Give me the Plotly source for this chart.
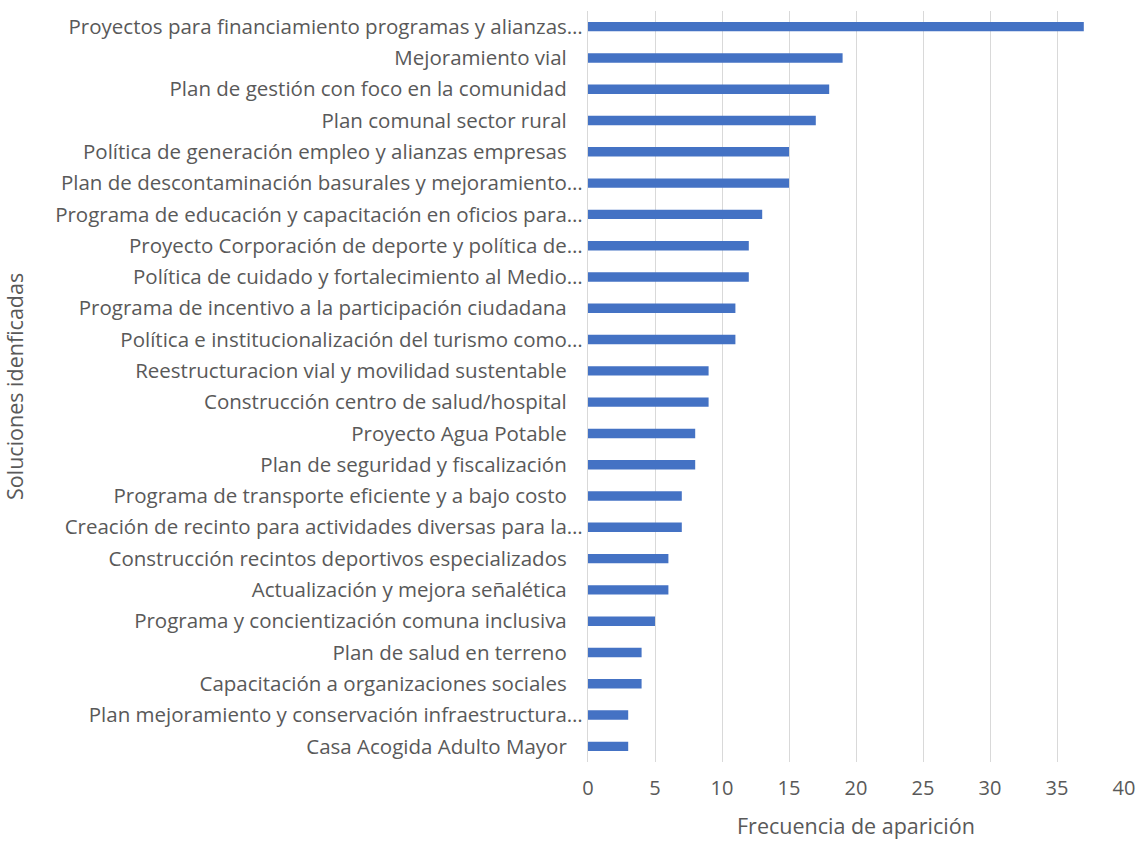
import plotly.graph_objects as go

categories = [
    "Proyectos para financiamiento programas y alianzas…",
    "Mejoramiento vial",
    "Plan de gestión con foco en la comunidad",
    "Plan comunal sector rural",
    "Política de generación empleo y alianzas empresas",
    "Plan de descontaminación basurales y mejoramiento…",
    "Programa de educación y capacitación en oficios para…",
    "Proyecto Corporación de deporte y política de…",
    "Política de cuidado y fortalecimiento al Medio…",
    "Programa de incentivo a la participación ciudadana",
    "Política e institucionalización del turismo como…",
    "Reestructuracion vial y movilidad sustentable",
    "Construcción centro de salud/hospital",
    "Proyecto Agua Potable",
    "Plan de seguridad y fiscalización",
    "Programa de transporte eficiente y a bajo costo",
    "Creación de recinto para actividades diversas para la…",
    "Construcción recintos deportivos especializados",
    "Actualización y mejora señalética",
    "Programa y concientización comuna inclusiva",
    "Plan de salud en terreno",
    "Capacitación a organizaciones sociales",
    "Plan mejoramiento y conservación infraestructura…",
    "Casa Acogida Adulto Mayor",
]
values = [37, 19, 18, 17, 15, 15, 13, 12, 12, 11, 11, 9, 9, 8, 8, 7, 7, 6, 6, 5, 4, 4, 3, 3]
x_ticks = [0, 5, 10, 15, 20, 25, 30, 35, 40]

labels = [c if c.endswith("…") else c + "\u00a0\u00a0\u00a0" for c in categories]

FONT = "Open Sans"
GREY = "#595959"
L, R, T, B = 588, 17, 11, 79
W, H = 1141, 841

fig = go.Figure(
    go.Bar(
        x=values,
        y=labels,
        orientation="h",
        marker=dict(color="#4472C4", line=dict(width=0)),
        width=0.3,
    )
)

fig.update_layout(
    width=W,
    height=H,
    margin=dict(l=L, r=R, t=T, b=B, autoexpand=False),
    plot_bgcolor="white",
    paper_bgcolor="white",
    showlegend=False,
    font=dict(family=FONT, color=GREY, size=20),
)
fig.update_xaxes(
    range=[0, 40],
    tickvals=x_ticks,
    showgrid=True,
    gridcolor="#D9D9D9",
    gridwidth=1.3,
    zeroline=False,
    showline=False,
    ticks="",
    automargin=False,
    ticklabelstandoff=12,
    tickfont=dict(size=20, color=GREY, family=FONT),
)
fig.update_yaxes(
    categoryorder="array",
    categoryarray=labels[::-1],
    autorange=False,
    range=[-0.5, len(labels) - 0.5],
    showline=True,
    linecolor="#D9D9D9",
    linewidth=1.3,
    ticks="",
    automargin=False,
    ticklabelstandoff=0,
    tickfont=dict(size=20.5, color=GREY, family=FONT),
)

pw = W - L - R
ph = H - T - B
fig.add_annotation(
    text="Frecuencia de aparición",
    xref="paper", yref="paper",
    x=(856 - L) / pw, y=-(826 - (H - B)) / ph,
    showarrow=False, xanchor="center", yanchor="middle",
    font=dict(size=21.5, color=GREY, family=FONT),
)
fig.add_annotation(
    text="Soluciones idenficadas",
    xref="paper", yref="paper",
    x=-(L - 14) / pw, y=1 - (387 - T) / ph,
    textangle=-90,
    showarrow=False, xanchor="center", yanchor="middle",
    font=dict(size=21.5, color=GREY, family=FONT),
)

fig.write_html(
    "out.html",
    config={"displayModeBar": False},
    post_script="document.body.style.margin='0px';document.body.style.overflow='hidden';",
)
